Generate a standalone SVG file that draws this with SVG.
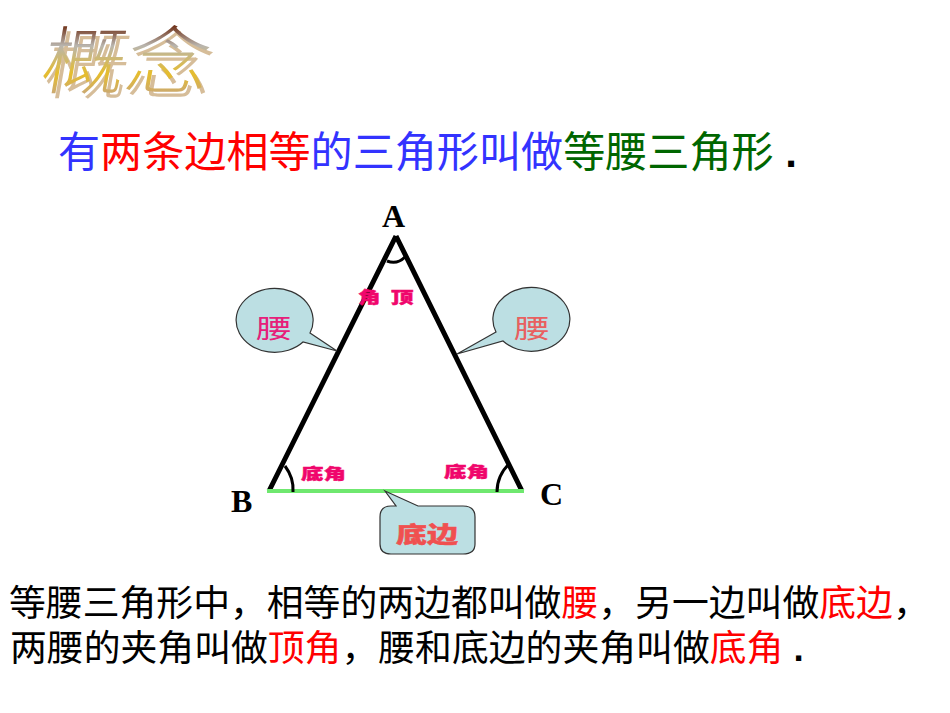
<svg xmlns="http://www.w3.org/2000/svg" width="950" height="713" viewBox="0 0 950 713">
<style>
text{font-family:"Noto Sans CJK SC","Noto Sans",sans-serif}
.latin{font-family:"Liberation Serif",serif;font-weight:700;font-size:32px;fill:#000}
.h{font-size:42.1px}
.b{font-size:36.85px;fill:#000}
.callout{fill:#bcdfe3;stroke:#333;stroke-width:1.2}
.edge{stroke:#000;stroke-width:5;fill:none}
.arc{stroke:#000;stroke-width:3;fill:none}
.small{font-size:22.5px;font-weight:900;fill:#f0066c;stroke:#f0066c;stroke-width:.6}
.waist{font-size:36px}
.title{font-size:84px;font-weight:300}
</style>
<defs>
<linearGradient id="g" gradientUnits="userSpaceOnUse" x1="0" y1="-72" x2="0" y2="8">
<stop offset="0" stop-color="#6b2a10"/><stop offset=".3" stop-color="#b9b5ae"/><stop offset=".7" stop-color="#e6bd2c"/><stop offset="1" stop-color="#c9a878"/>
</linearGradient>
</defs>
<rect width="950" height="713" fill="#fff"/>
<g id="title">
<text class="title" transform="translate(38,90) skewX(-10) scale(1,.88)" fill="#c9a878" opacity=".75" dx="4" dy="3">概念</text>
<text class="title" transform="translate(38,88) skewX(-10) scale(1,.88)" fill="url(#g)">概念</text>
</g>
<g id="heading"><text class="h" x="58" y="167"><tspan fill="#3333ff">有</tspan><tspan fill="#ff0000">两条边相等</tspan><tspan fill="#3333ff">的三角形叫做</tspan><tspan fill="#006600">等腰三角形</tspan><tspan fill="#000" font-family="Liberation Sans" font-weight="700"> .</tspan></text></g>
<g id="connectors">
<path class="edge" d="M396 236 L269 491 M396 236 L522 491"/>
<path d="M267 491 H524" stroke="#6fe86f" stroke-width="4" fill="none"/>
<path class="arc" d="M387 261 Q397 265 405 257"/>
<path class="arc" d="M285 466 Q294 478 293 492"/>
<path class="arc" d="M510 463 Q497 475 497 492"/>
</g>
<g id="label-A"><text class="latin" x="382" y="227">A</text></g>
<g id="label-B"><text class="latin" x="231" y="512">B</text></g>
<g id="label-C"><text class="latin" x="540" y="505">C</text></g>
<g id="apex-label"><text class="small" transform="translate(358,303) scale(1,.72)">角</text><text class="small" transform="translate(391,303) scale(1,.72)">顶</text></g>
<g id="base-angle-left"><text class="small" transform="translate(301,479) scale(1,.68)">底角</text></g>
<g id="base-angle-right"><text class="small" transform="translate(444,477) scale(1,.68)">底角</text></g>
<g id="callout-left"><path class="callout" d="M310 333 L337 351 L303 342 A38.5 32 0 1 1 310 333 Z"/><text class="waist" transform="translate(256,338) scale(1,.72)" fill="#e6207a">腰</text></g>
<g id="callout-right"><path class="callout" d="M496 332 L457 354 L503 341 A38.5 32 0 1 0 496 332 Z"/><text class="waist" transform="translate(514,338) scale(1,.72)" fill="#e86060">腰</text></g>
<g id="callout-base"><path class="callout" d="M385 491 L418 506 H463 Q475 506 475 517 V544 Q475 554 463 554 H391 Q380 554 380 544 V517 Q380 506 391 506 H396 Z"/><text transform="translate(396,542) scale(1,.7)" font-size="31" font-weight="900" fill="#f05050" stroke="#f05050" stroke-width=".6">底边</text></g>
<g id="body">
<text class="b" x="9" y="616">等腰三角形中，相等的两边都叫做<tspan fill="#ff0000">腰</tspan>，另一边叫做<tspan fill="#ff0000">底边</tspan>，</text>
<text class="b" x="10" y="661">两腰的夹角叫做<tspan fill="#ff0000">顶角</tspan>，腰和底边的夹角叫做<tspan fill="#ff0000">底角</tspan><tspan font-family="Liberation Sans" font-weight="700"> .</tspan></text>
</g>
</svg>
